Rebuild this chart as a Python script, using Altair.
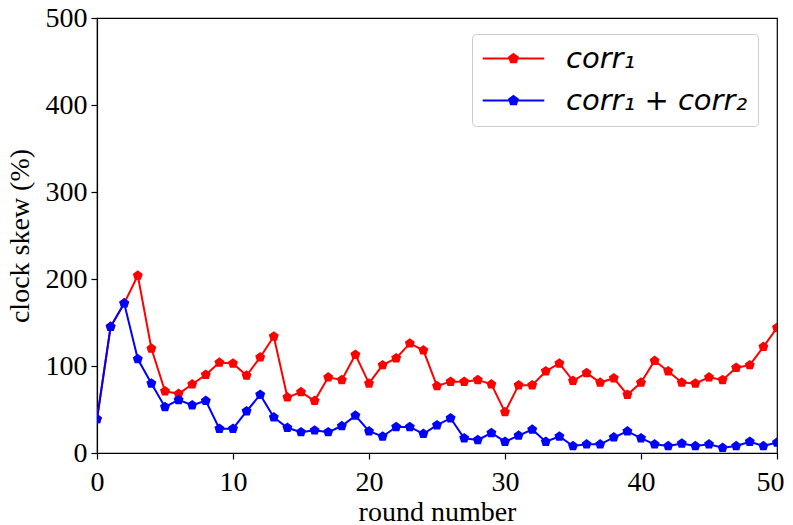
import altair as alt
import pandas as pd

rounds = list(range(51))
corr1 = [39, 145, 172, 204, 120, 71, 68, 79, 90, 104, 103, 89, 110, 134, 64, 70, 60, 87, 84, 113,
         80, 101, 109, 126, 118, 77, 82, 82, 84, 79, 47, 78, 78, 94, 103, 83, 92, 81, 86, 67,
         81, 106, 94, 81, 80, 87, 84, 98, 101, 122, 144]
corr12 = [39, 145, 172, 108, 80, 53, 61, 55, 60, 28, 28, 48, 67, 41, 29, 24, 26, 24, 31, 43,
          25, 19, 30, 30, 22, 32, 40, 17, 15, 23, 13, 20, 27, 13, 19, 8, 10, 10, 18, 25,
          17, 10, 8, 11, 8, 10, 6, 8, 13, 8, 12]
series_names = ["corr\u2081", "corr\u2081 + corr\u2082"]
series_colors = ["#ff0000", "#0000ff"]
x_ticks = [0, 10, 20, 30, 40, 50]
y_ticks = [0, 100, 200, 300, 400, 500]

rows = []
for name, vals in zip(series_names, [corr1, corr12]):
    for r, v in zip(rounds, vals):
        rows.append({"round": r, "skew": v, "series": name})
df = pd.DataFrame(rows)

pentagon = "M0,-1L0.951,-0.309L0.588,0.809L-0.588,0.809L-0.951,-0.309Z"
legend_sym = "M-4.4,0L4.4,0M0,-0.64L0.609,-0.198L0.376,0.518L-0.376,0.518L-0.609,-0.198Z"

x = alt.X("round:Q", scale=alt.Scale(domain=[0, 50], nice=False),
          axis=alt.Axis(values=x_ticks, title="round number", grid=False, format="d",
                        labelFlush=False, labelOverlap=False,
                        labelOffset=alt.condition("datum.value == 50", alt.value(-7), alt.value(0)),
                        labelPadding=9, titlePadding=2))
y = alt.Y("skew:Q", scale=alt.Scale(domain=[0, 500], nice=False),
          axis=alt.Axis(values=y_ticks, title="clock skew (%)", grid=False, format="d",
                        labelFlush=False, labelOverlap=False,
                        labelPadding=4, titlePadding=11))
color = alt.Color("series:N", scale=alt.Scale(domain=series_names, range=series_colors),
                  sort=series_names,
                  legend=alt.Legend(title=None, orient="none", legendX=375, legendY=16,
                                    symbolType=legend_sym, symbolSize=196, symbolStrokeWidth=2,
                                    symbolOffset=17, labelOffset=38,
                                    labelFont="DejaVu Sans", labelFontStyle="italic",
                                    labelFontSize=29, labelColor="black", rowPadding=12,
                                    padding=10, strokeColor="#cccccc", cornerRadius=4,
                                    fillColor="white", labelLimit=400))

base = alt.Chart(df).encode(x=x, y=y, color=color, order=alt.Order("round:Q"))
lines = base.mark_line(strokeWidth=2, clip=True)
points = base.mark_point(filled=True, shape=pentagon, size=110, opacity=1, clip=True)

chart = alt.layer(lines, points).properties(
    width=680, height=435,
    autosize=alt.AutoSizeParams(type="none"),
    padding={"left": 89, "top": 10, "right": 8, "bottom": 72},
).configure_view(stroke="black", strokeWidth=1.2).configure_axis(
    labelFont="Liberation Serif", titleFont="Liberation Serif",
    labelFontSize=28, titleFontSize=28, labelColor="black", titleColor="black",
    titleFontWeight="normal", domainColor="black", tickColor="black",
    tickSize=6, domainWidth=1.2, tickWidth=1.2,
)

chart.save("out.html", embed_options={"renderer": "svg", "actions": False})
